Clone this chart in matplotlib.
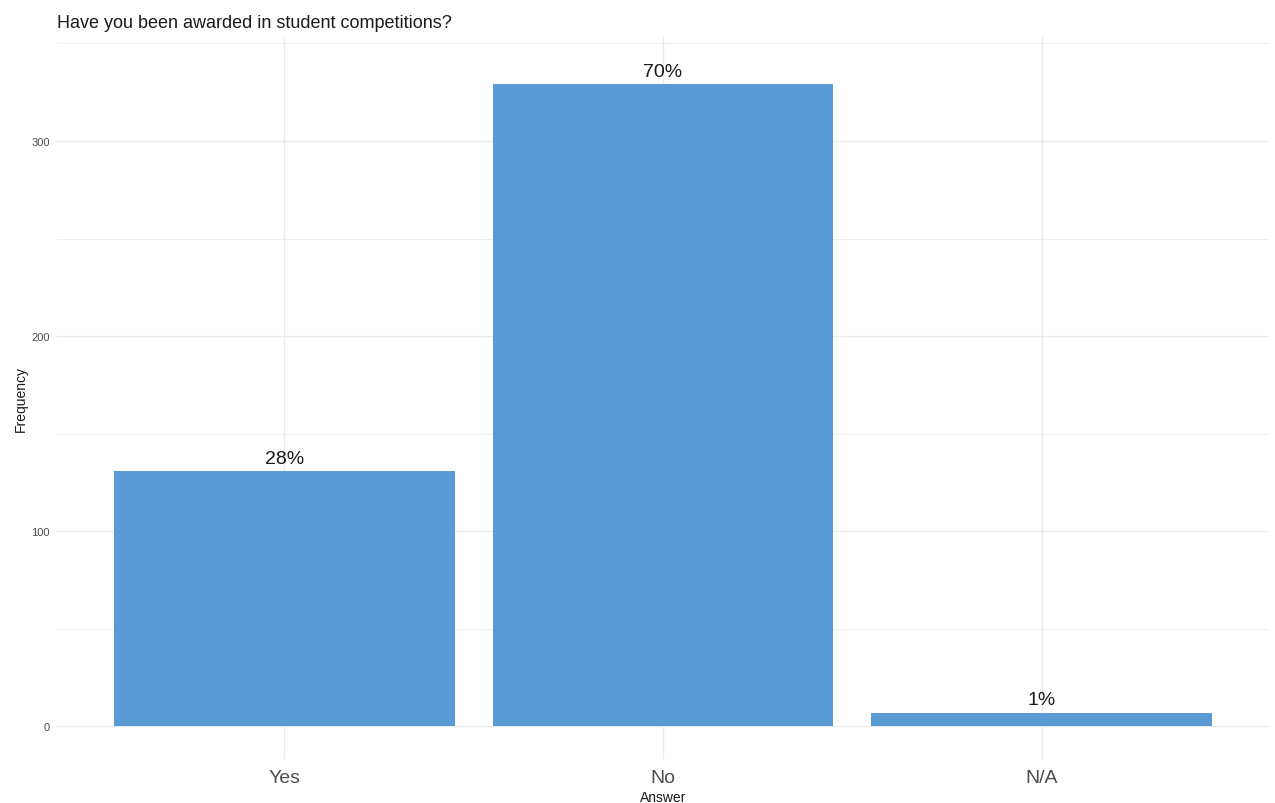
import matplotlib
matplotlib.use("Agg")
import matplotlib.pyplot as plt

categories = ["Yes", "No", "N/A"]
counts = [131, 329, 7]
pct_labels = ["28%", "70%", "1%"]
y_ticks = [0, 100, 200, 300]
y_minor = [50, 150, 250, 350]

plt.rcParams['font.family'] = ['Liberation Sans', 'DejaVu Sans']

W, H = 1275, 804
fig = plt.figure(figsize=(W / 100, H / 100), dpi=100)
left, right, top, bottom = 57, 1269, 38, 760
ax = fig.add_axes([left / W, 1 - bottom / H, (right - left) / W, (bottom - top) / H])

x = list(range(1, len(categories) + 1))
ax.bar(x, counts, width=0.9, color="#5B9BD5", zorder=3)
for xi, c, lab in zip(x, counts, pct_labels):
    ax.annotate(lab, (xi, c), xytext=(0, 3), textcoords="offset points",
                ha="center", va="bottom", fontsize=14, color="#1a1a1a", zorder=4)

ax.set_xlim(0.4, 3.6)
ax.set_ylim(-16.8, 353.3)
ax.set_xticks(x)
ax.set_xticklabels(categories, fontsize=14, color="#4d4d4d")
ax.set_yticks(y_ticks)
ax.set_yticklabels([str(v) for v in y_ticks], fontsize=8, color="#4d4d4d")
ax.set_yticks(y_minor, minor=True)
ax.tick_params(axis="both", length=0, which="both")
ax.tick_params(axis="x", pad=7)
ax.tick_params(axis="y", pad=5)
ax.grid(True, which="major", color="#EBEBEB", linewidth=1.0, zorder=0)
ax.grid(True, which="minor", axis="y", color="#EBEBEB", linewidth=0.6, zorder=0)
for s in ax.spines.values():
    s.set_visible(False)

ax.set_ylabel("Frequency", fontsize=10, color="#1a1a1a", labelpad=3)
ax.set_xlabel("Answer", fontsize=10, color="#1a1a1a", labelpad=3)
fig.text(left / W, 1 - 28 / H, "Have you been awarded in student competitions?",
         fontsize=13, color="#1a1a1a", ha="left", va="baseline")

fig.savefig("out.png", dpi=100)
